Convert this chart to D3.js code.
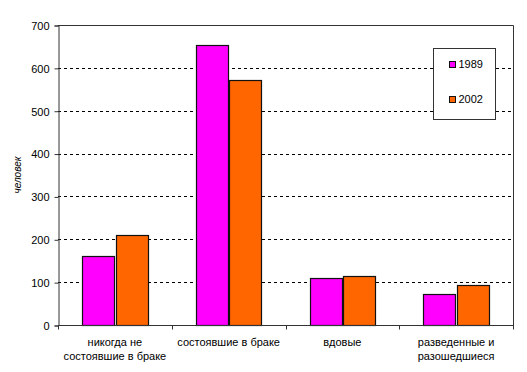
<!DOCTYPE html>
<html>
<head>
<meta charset="utf-8">
<script src="https://cdn.jsdelivr.net/npm/d3@7"></script>
<style>
body { margin: 0; background: #fff; }
svg text { font-family: "Liberation Sans", Arial, sans-serif; fill: #000; }
</style>
</head>
<body>
<svg id="chart" width="527" height="372"></svg>
<script>
var categories = [
    ["никогда не", "состоявшие в браке"],
    ["состоявшие в браке"],
    ["вдовые"],
    ["разведенные и", "разошедшиеся"]
];
var years = ["1989", "2002"];
var values1989 = [160, 653, 109, 72];
var values2002 = [209, 571, 114, 93];
var yTicks = [0, 100, 200, 300, 400, 500, 600, 700];
var colors = ["#ff00ff", "#ff6600"];

var svg = d3.select("#chart");
var plotLeft = 58, plotRight = 513, plotTop = 25, plotBottom = 325;

var x = d3.scaleBand().domain(d3.range(categories.length)).range([plotLeft, plotRight]);
var inner = d3.scaleBand().domain(years).range([0, x.bandwidth()]).paddingOuter(0.72).paddingInner(0.04);
var y = d3.scaleLinear().domain([0, 700]).range([plotBottom, plotTop]);

// dashed gridlines
svg.append("g").selectAll("line")
    .data(yTicks.filter(function(d){ return d > 0 && d < 700; }))
    .enter().append("line")
    .attr("x1", plotLeft).attr("x2", plotRight)
    .attr("y1", function(d){ return Math.round(y(d)) + 0.5; })
    .attr("y2", function(d){ return Math.round(y(d)) + 0.5; })
    .attr("stroke", "#000").attr("stroke-dasharray", "3,3");

// frame top + right
svg.append("path")
    .attr("d", "M" + plotLeft + "," + (plotTop + 0.5) + "H" + (plotRight + 0.5) + "V" + plotBottom)
    .attr("fill", "none").attr("stroke", "#333");

// bars
var series = [values1989, values2002];
series.forEach(function(vals, si){
    svg.append("g").selectAll("rect")
        .data(vals)
        .enter().append("rect")
        .attr("x", function(d, i){ return Math.round(x(i) + inner(years[si])) + 0.5; })
        .attr("y", function(d){ return Math.round(y(d)) + 0.5; })
        .attr("width", Math.round(inner.bandwidth()))
        .attr("height", function(d){ return plotBottom - Math.round(y(d)); })
        .attr("fill", colors[si])
        .attr("stroke", "#111").attr("stroke-width", 1.2);
});

// y axis
var yAxis = svg.append("g")
    .attr("transform", "translate(" + (plotLeft + 0.5) + ",0.5)")
    .call(d3.axisLeft(y).tickValues(yTicks).tickSize(4).tickPadding(5));
yAxis.select(".domain").attr("stroke", "#333");
yAxis.selectAll(".tick line").attr("stroke", "#333");
yAxis.selectAll("text").style("font-size", "11px").attr("dy", "0.35em");

// x axis
var xAxis = svg.append("g").attr("transform", "translate(0," + (plotBottom + 0.5) + ")");
xAxis.append("line").attr("x1", plotLeft).attr("x2", plotRight + 1).attr("stroke", "#333");
xAxis.selectAll(".xt")
    .data(d3.range(categories.length + 1))
    .enter().append("line")
    .attr("x1", function(i){ return Math.round(plotLeft + i * x.step()) + 0.5; })
    .attr("x2", function(i){ return Math.round(plotLeft + i * x.step()) + 0.5; })
    .attr("y1", 0).attr("y2", 4).attr("stroke", "#333");

var labels = xAxis.selectAll(".lbl")
    .data(categories)
    .enter().append("text")
    .attr("text-anchor", "middle")
    .style("font-size", "11px");
labels.each(function(lines, i){
    var t = d3.select(this);
    lines.forEach(function(line, k){
        t.append("tspan")
            .attr("x", x(i) + x.bandwidth() / 2)
            .attr("y", 20 + k * 14)
            .text(line);
    });
});

// y axis title
svg.append("text")
    .attr("transform", "translate(21,175) rotate(-90)")
    .attr("text-anchor", "middle")
    .style("font-size", "10px").style("font-style", "italic")
    .text("человек");

// legend
var legend = svg.append("g").attr("transform", "translate(433.5,48.5)");
legend.append("rect").attr("width", 62).attr("height", 71)
    .attr("fill", "#fff").attr("stroke", "#333");
years.forEach(function(yr, i){
    var g = legend.append("g").attr("transform", "translate(16," + (13 + i * 35) + ")");
    g.append("rect").attr("width", 6).attr("height", 6)
        .attr("fill", colors[i]).attr("stroke", "#111");
    g.append("text").attr("x", 9).attr("y", 3).attr("dy", "0.35em")
        .style("font-size", "11px").text(yr);
});
</script>
</body>
</html>
